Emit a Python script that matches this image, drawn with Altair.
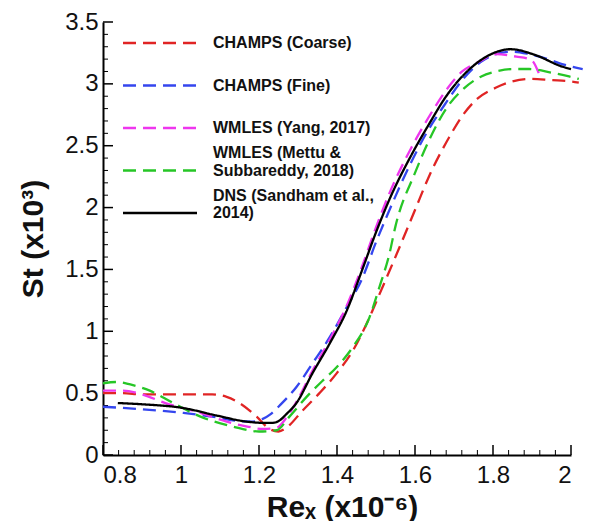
import altair as alt
import pandas as pd

series_names = [
    "CHAMPS (Coarse)",
    "CHAMPS (Fine)",
    "WMLES (Yang, 2017)",
    "WMLES (Mettu & Subbareddy, 2018)",
    "DNS (Sandham et al., 2014)",
]
series_colors = ["#e02424", "#3446ee", "#ee36ee", "#26c626", "#000000"]
series_dash = [[13, 7], [13, 7], [13, 7], [13, 7], [1, 0]]

# legend text lines (series, text, slot position)
legend_series = ["CHAMPS (Coarse)", "CHAMPS (Fine)", "WMLES (Yang, 2017)",
                 "WMLES (Mettu & Subbareddy, 2018)", "DNS (Sandham et al., 2014)"]
legend_slots = [0, 1, 2, 3, 4]
legend_text = ["CHAMPS (Coarse)", "CHAMPS (Fine)", "WMLES (Yang, 2017)",
               "WMLES (Mettu &", "Subbareddy, 2018)", "DNS (Sandham et al.,", "2014)"]
legend_text_slots = [0, 1, 2, 2.58, 3.0, 3.6, 4.0]

coarse_x = [0.80, 0.85, 0.90, 1.00, 1.08, 1.117, 1.15, 1.194, 1.227, 1.25, 1.27, 1.312, 1.355, 1.399, 1.44,
            1.483, 1.509, 1.547, 1.60, 1.637, 1.688, 1.721, 1.76, 1.808, 1.85, 1.893, 1.95, 2.00, 2.02]
coarse_y = [0.50, 0.50, 0.49, 0.49, 0.49, 0.47, 0.42, 0.31, 0.21, 0.19, 0.22, 0.36, 0.50, 0.66, 0.84,
            1.11, 1.30, 1.58, 1.98, 2.26, 2.57, 2.74, 2.88, 2.97, 3.02, 3.04, 3.03, 3.02, 3.01]

fine_x = [0.80, 0.90, 1.005, 1.08, 1.133, 1.18, 1.20, 1.23, 1.253, 1.296, 1.337, 1.381, 1.424, 1.465, 1.50,
          1.54, 1.58, 1.629, 1.68, 1.721, 1.77, 1.808, 1.85, 1.893, 1.95, 1.977, 2.03]
fine_y = [0.39, 0.37, 0.34, 0.31, 0.28, 0.27, 0.28, 0.33, 0.40, 0.55, 0.74, 0.95, 1.19, 1.43, 1.72,
          2.02, 2.30, 2.60, 2.85, 3.03, 3.18, 3.24, 3.26, 3.24, 3.19, 3.16, 3.12]

yang_x = [0.80, 0.85, 0.90, 0.96, 1.05, 1.117, 1.17, 1.21, 1.245, 1.27, 1.296, 1.337, 1.381, 1.424, 1.465,
          1.50, 1.535, 1.59, 1.637, 1.68, 1.721, 1.765, 1.808, 1.86, 1.893, 1.905, 1.918]
yang_y = [0.52, 0.52, 0.49, 0.42, 0.34, 0.27, 0.23, 0.21, 0.22, 0.30, 0.43, 0.68, 0.93, 1.20, 1.53,
          1.84, 2.12, 2.48, 2.74, 2.95, 3.10, 3.18, 3.24, 3.22, 3.20, 3.17, 3.08]

mettu_x = [0.80, 0.835, 0.87, 0.92, 0.98, 1.05, 1.133, 1.20, 1.245, 1.278, 1.322, 1.363, 1.399, 1.44, 1.483,
           1.509, 1.534, 1.55, 1.60, 1.637, 1.68, 1.721, 1.77, 1.808, 1.85, 1.893, 1.95, 1.995, 2.02]
mettu_y = [0.58, 0.59, 0.57, 0.52, 0.42, 0.31, 0.23, 0.19, 0.20, 0.31, 0.47, 0.60, 0.71, 0.87, 1.11,
           1.36, 1.62, 1.85, 2.28, 2.55, 2.80, 2.95, 3.06, 3.10, 3.12, 3.12, 3.09, 3.06, 3.04]

dns_x = [0.838, 0.90, 1.005, 1.09, 1.168, 1.21, 1.235, 1.253, 1.27, 1.296, 1.337, 1.381, 1.424, 1.465, 1.50,
         1.535, 1.59, 1.637, 1.68, 1.721, 1.783, 1.845, 1.911, 1.977, 2.00]
dns_y = [0.42, 0.41, 0.38, 0.32, 0.27, 0.26, 0.26, 0.28, 0.33, 0.42, 0.66, 0.90, 1.16, 1.50, 1.80,
         2.07, 2.42, 2.68, 2.90, 3.06, 3.22, 3.28, 3.23, 3.14, 3.12]

x_major = [0.8, 1.0, 1.2, 1.4, 1.6, 1.8, 2.0]
x_minor = [0.84, 0.88, 0.92, 0.96, 1.04, 1.08, 1.12, 1.16, 1.24, 1.28, 1.32, 1.36, 1.44, 1.48, 1.52, 1.56,
           1.64, 1.68, 1.72, 1.76, 1.84, 1.88, 1.92, 1.96]
y_major = [0.0, 0.5, 1.0, 1.5, 2.0, 2.5, 3.0, 3.5]
y_minor = [0.1, 0.2, 0.3, 0.4, 0.6, 0.7, 0.8, 0.9, 1.1, 1.2, 1.3, 1.4, 1.6, 1.7, 1.8, 1.9, 2.1, 2.2, 2.3,
           2.4, 2.6, 2.7, 2.8, 2.9, 3.1, 3.2, 3.3, 3.4]

rows = []
for name, xs, ys in zip(series_names,
                        [coarse_x, fine_x, yang_x, mettu_x, dns_x],
                        [coarse_y, fine_y, yang_y, mettu_y, dns_y]):
    for i, (xv, yv) in enumerate(zip(xs, ys)):
        rows.append({"Re": xv, "St": yv, "series": name, "idx": i})
df = pd.DataFrame(rows)

W, H = 468, 433
FONT = "Liberation Sans"

xscale = alt.Scale(domain=[0.8, 2.0], nice=False, zero=False)
yscale = alt.Scale(domain=[0.0, 3.5], nice=False, zero=False)
legscale = alt.Scale(domain=[0, 4], range=[21, 191], nice=False, zero=False)
cscale = alt.Scale(domain=series_names, range=series_colors)
dscale = alt.Scale(domain=series_names, range=series_dash)

xaxis = alt.Axis(values=x_major, format="~g", title="Reₓ (x10⁻⁶)",
                 titleX=239, titleY=61, titleBaseline="alphabetic", titleAlign="center")

lines = alt.Chart(df).mark_line(interpolate="monotone", strokeWidth=2.3).encode(
    x=alt.X("Re:Q", scale=xscale, axis=xaxis),
    y=alt.Y("St:Q", scale=yscale,
            axis=alt.Axis(values=y_major, format="~g", title="St (x10³)",
                          titleX=-70, titleBaseline="middle", titleAlign="center")),
    color=alt.Color("series:N", scale=cscale, legend=None),
    strokeDash=alt.StrokeDash("series:N", scale=dscale, legend=None),
    order="idx:Q",
)

leg_lines = alt.Chart(pd.DataFrame({"series": legend_series, "slot": legend_slots})).mark_rule(
    strokeWidth=2.3).encode(
    x=alt.value(20), x2=alt.value(94),
    y=alt.Y("slot:Q", scale=legscale, axis=None),
    color=alt.Color("series:N", scale=cscale, legend=None),
    strokeDash=alt.StrokeDash("series:N", scale=dscale, legend=None),
)
leg_text = alt.Chart(pd.DataFrame({"txt": legend_text, "slot": legend_text_slots})).mark_text(
    align="left", baseline="middle", font=FONT, fontSize=16, fontWeight="bold", color="#111111").encode(
    x=alt.value(110),
    y=alt.Y("slot:Q", scale=legscale, axis=None),
    text="txt:N",
)

xmaj = alt.Chart(pd.DataFrame({"Re": x_major})).mark_rule(color="black", strokeWidth=1.5).encode(
    x=alt.X("Re:Q", scale=xscale, axis=xaxis), y=alt.value(H), y2=alt.value(H - 10))
xmin = alt.Chart(pd.DataFrame({"Re": x_minor})).mark_rule(color="black", strokeWidth=1).encode(
    x=alt.X("Re:Q", scale=xscale, axis=xaxis), y=alt.value(H), y2=alt.value(H - 5))
ymaj = alt.Chart(pd.DataFrame({"v": y_major})).mark_rule(color="black", strokeWidth=1.5).encode(
    y=alt.Y("v:Q", scale=yscale, axis=None), x=alt.value(0), x2=alt.value(10))
ymin = alt.Chart(pd.DataFrame({"v": y_minor})).mark_rule(color="black", strokeWidth=1).encode(
    y=alt.Y("v:Q", scale=yscale, axis=None), x=alt.value(0), x2=alt.value(5))

chart = alt.layer(xmin, xmaj, ymin, ymaj, lines, leg_lines, leg_text).resolve_scale(
    y="independent"
).properties(
    width=W, height=H,
    autosize=alt.AutoSizeParams(type="none"),
    padding={"left": 95, "top": 14, "right": 15, "bottom": 66},
).configure_view(stroke=None).configure_axis(
    domainColor="black", domainWidth=2, ticks=False, grid=False,
    labelFont=FONT, labelFontSize=24, labelColor="#111111",
    titleFont=FONT, titleFontSize=30, titleFontWeight="bold", titleColor="#111111",
).configure_axisX(labelPadding=8).configure_axisY(labelPadding=5)

chart.save("out.html", embed_options={"renderer": "svg", "actions": False})
